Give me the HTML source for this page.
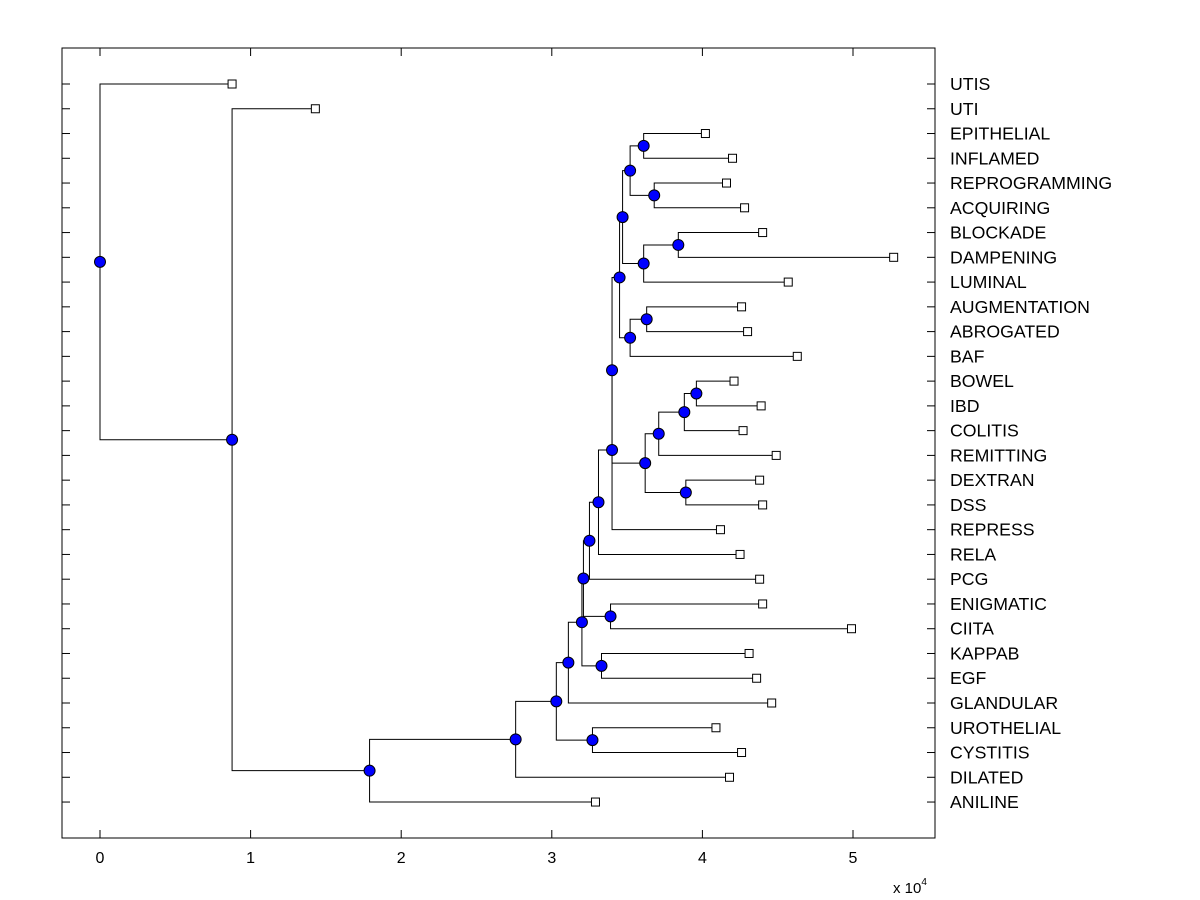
<!DOCTYPE html>
<html><head><meta charset="utf-8"><style>
body{margin:0;background:#fff}
svg{display:block;font-family:"Liberation Sans",Arial,sans-serif}
</style></head><body>
<svg id="c" width="1200" height="900"></svg>
<script>
const labels=["UTIS","UTI","EPITHELIAL","INFLAMED","REPROGRAMMING","ACQUIRING","BLOCKADE","DAMPENING","LUMINAL","AUGMENTATION","ABROGATED","BAF","BOWEL","IBD","COLITIS","REMITTING","DEXTRAN","DSS","REPRESS","RELA","PCG","ENIGMATIC","CIITA","KAPPAB","EGF","GLANDULAR","UROTHELIAL","CYSTITIS","DILATED","ANILINE"];
const leafValues=[0.877,1.43,4.02,4.20,4.16,4.28,4.40,5.27,4.57,4.26,4.30,4.63,4.21,4.39,4.27,4.49,4.38,4.40,4.12,4.25,4.38,4.40,4.99,4.31,4.36,4.46,4.09,4.26,4.18,3.29];
// internal nodes: [name, value(x1e4), childA, childB]
const nodes=[
["Z",3.61,2,3],["AA",3.68,4,5],["X",3.52,"Z","AA"],["BB",3.84,6,7],["Y",3.61,"BB",8],
["U",3.47,"X","Y"],["W",3.63,9,10],["V",3.52,"W",11],["O",3.45,"U","V"],
["T",3.96,12,13],["S",3.88,"T",14],["Q",3.71,"S",15],["R",3.89,16,17],["P",3.62,"Q","R"],
["N",3.40,"O","P"],["M",3.40,"N",18],["L",3.31,"M",19],["J",3.25,"L",20],["K",3.39,21,22],
["H",3.21,"J","K"],["I",3.33,23,24],["G",3.20,"H","I"],["E",3.11,"G",25],["F",3.27,26,27],
["D",3.03,"E","F"],["C",2.76,"D",28],["B",1.79,"C",29],["A",0.877,1,"B"],["ROOT",0,0,"A"]];
const xTicks=[0,1,2,3,4,5];

const svg=document.getElementById('c');const NS="http://www.w3.org/2000/svg";
const L=62,R=935,T=48,Bt=838;
const X=v=>100+v*150.6;
const Yi=i=>84+i*24.76;
function mk(t,a,name,parent){const e=document.createElementNS(NS,t);for(const k in a)e.setAttribute(k,a[k]);


(parent||svg).appendChild(e);return e;}
mk('rect',{x:L,y:T,width:R-L,height:Bt-T,fill:'none',stroke:'#000','stroke-width':1},'plot-frame');
xTicks.forEach(t=>{const x=X(t);
mk('line',{x1:x,y1:Bt,x2:x,y2:Bt-8,stroke:'#000'},'x-tick');
mk('line',{x1:x,y1:T,x2:x,y2:T+8,stroke:'#000'},'x-tick-top');
const tx=mk('text',{x:x,y:863,'font-size':16,'text-anchor':'middle'},'x-tick-label');tx.textContent=t;});
const ex=mk('text',{x:893,y:893,'font-size':15},'x-axis-exponent');ex.innerHTML='x 10<tspan dy="-8" font-size="10">4</tspan>';
labels.forEach((l,i)=>{const y=Yi(i);
mk('line',{x1:L,y1:y,x2:L+8,y2:y,stroke:'#000'},'y-tick');
mk('line',{x1:R,y1:y,x2:R-8,y2:y,stroke:'#000'},'y-tick-right');
const tx=mk('text',{x:950,y:y+6,'font-size':17.7},'leaf-label');tx.textContent=l;});
const pos={};
labels.forEach((l,i)=>{pos[i]={x:X(leafValues[i]),y:Yi(i)};});
const gl=mk('g',{},'links'),gm=mk('g',{},'markers');
nodes.forEach(n=>{const a=pos[n[2]],b=pos[n[3]];const x=X(n[1]);const y=(a.y+b.y)/2;pos[n[0]]={x,y};
mk('path',{d:`M${a.x},${a.y}H${x}V${b.y}H${b.x}`,fill:'none',stroke:'#000','stroke-width':1},'link-'+n[0],gl);});
labels.forEach((l,i)=>{mk('rect',{x:pos[i].x-4,y:pos[i].y-4,width:8,height:8,fill:'#fff',stroke:'#000'},'leaf-marker',gm);});
nodes.forEach(n=>{const p=pos[n[0]];mk('circle',{cx:p.x,cy:p.y,r:5.5,fill:'#0000ff',stroke:'#000','stroke-width':1},'node-marker',gm);});
</script>
</body></html>
